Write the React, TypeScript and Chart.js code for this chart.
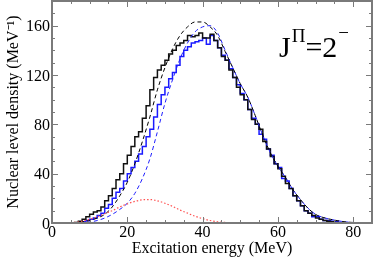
import React, { useEffect, useRef } from 'react';
import { Chart, registerables } from 'chart.js';

Chart.register(...registerables);

// Histogram bins are 1 MeV wide, first bin starts at 1 MeV
const binStart = 1;
const binWidth = 1;
// black histogram (bins 1..80 MeV)
const blackHist = [
  0, 0, 0, 0, 0, 0, 0.5, 1.5, 3, 5,
  7, 9, 10, 13, 18, 22, 28, 35, 40, 48,
  55, 62, 70, 74, 85, 95, 108, 118, 124, 128,
  132, 137, 140, 144, 146, 148, 152, 151, 152, 154,
  150, 150, 153, 148, 142, 135, 132, 124, 118, 110,
  104, 100, 92, 84, 80, 76, 66, 60, 54, 48,
  44, 38, 32, 28, 22, 18, 14, 10, 8, 6,
  4, 3, 2, 1.5, 1, 0.5, 0, 0, 0, 0,
];
// blue histogram (bins 1..80 MeV)
const blueHist = [
  0, 0, 0, 0, 0, 0, 0, 0.5, 1, 2,
  3, 4, 6, 8, 12, 15, 20, 25, 28, 34,
  40, 45, 50, 56, 62, 70, 76, 86, 96, 104,
  110, 117, 122, 128, 135, 140, 143, 146, 147, 148,
  150, 145, 152, 148, 142, 136, 132, 125, 118, 112,
  105, 100, 92, 85, 80, 72, 68, 60, 55, 48,
  45, 36, 34, 28, 22, 18, 14, 10, 8, 5,
  5, 3, 2, 2, 1.5, 1, 0.5, 0, 0, 0,
];
// smooth curves sampled every 2 MeV
const curveE = [
  0, 2, 4, 6, 8, 10, 12, 14, 16, 18, 20, 22, 24, 26, 28, 30, 32, 34, 36, 38, 40, 42,
  44, 46, 48, 50, 52, 54, 56, 58, 60, 62, 64, 66, 68, 70, 72, 74, 76, 78, 80, 82, 84,
];
const blackFit = [
  0, 0, 0, 0.3, 1, 2, 4, 7, 13, 22, 33, 48, 66, 86, 108, 126, 141, 152, 159, 163, 163, 159,
  152, 139, 126, 113, 102, 87, 71, 57, 46, 37, 27, 19, 12, 7, 4.5, 3, 1.8, 0.9, 0.4, 0.1, 0,
];
const blueFit = [
  0, 0, 0, 0, 0.3, 0.8, 2, 4, 7, 11, 16, 24, 36, 52, 74, 97, 116, 133, 146, 155, 159, 160,
  154, 140, 126, 113, 102, 87, 71, 57, 46, 37, 27, 19, 12, 7, 4.5, 3, 1.8, 0.9, 0.4, 0.1, 0,
];
const redE = [4, 6, 8, 10, 12, 14, 16, 18, 20, 22, 24, 26, 28, 30, 32, 34, 36, 38, 40, 42, 44, 46, 48, 50];
const redFit = [0.2, 0.5, 1.5, 3, 5, 7.5, 10, 13, 15.5, 17.5, 18.8, 19, 18, 16, 13.5, 10.5, 8, 5.5, 3.5, 2, 1, 0.5, 0.2, 0];

const xTicks = [0, 20, 40, 60, 80];
const yTicks = [0, 40, 80, 120, 160];
const xTitle = 'Excitation energy (MeV)';
const yTitle = 'Nuclear level density (MeV⁻¹)';

const SERIF = '"Liberation Serif", "Times New Roman", serif';

function histPoints(vals: number[]) {
  const pts = vals.map((v, i) => ({ x: binStart + i * binWidth, y: v }));
  pts.push({ x: binStart + vals.length * binWidth, y: vals[vals.length - 1] });
  return pts;
}
function curvePoints(xs: number[], ys: number[]) {
  return xs.map((x, i) => ({ x, y: ys[i] }));
}

const framePlugin = {
  id: 'frame',
  afterDraw(chart: any) {
    const { ctx, chartArea } = chart;
    const { left, right, top, bottom } = chartArea;
    const xs = chart.scales.x;
    const ys = chart.scales.y;
    ctx.save();
    ctx.strokeStyle = '#7a7a7a';
    ctx.lineWidth = 1;
    ctx.beginPath();
    for (let v = 5; v < 85; v += 5) {
      const px = Math.round(xs.getPixelForValue(v)) + 0.5;
      const len = v % 20 === 0 ? 6 : 3;
      ctx.moveTo(px, bottom); ctx.lineTo(px, bottom - len);
      ctx.moveTo(px, top); ctx.lineTo(px, top + len);
    }
    for (let v = 10; v < 180; v += 10) {
      const py = Math.round(ys.getPixelForValue(v)) + 0.5;
      const len = v % 40 === 0 ? 6 : 3;
      ctx.moveTo(left, py); ctx.lineTo(left + len, py);
      ctx.moveTo(right, py); ctx.lineTo(right - len, py);
    }
    ctx.stroke();
    ctx.lineWidth = 2;
    ctx.strokeRect(left, top, right - left, bottom - top);

    // tick labels
    ctx.fillStyle = '#000';
    ctx.font = `16px ${SERIF}`;
    ctx.textBaseline = 'alphabetic';
    ctx.textAlign = 'center';
    for (const v of xTicks) {
      ctx.fillText(String(v), xs.getPixelForValue(v), bottom + 14);
    }
    ctx.textAlign = 'right';
    for (const v of yTicks) {
      ctx.fillText(String(v), left - 2, ys.getPixelForValue(v) + 5.5);
    }
    // axis titles
    ctx.textAlign = 'center';
    ctx.fillText(xTitle, (left + right) / 2, bottom + 30);
    ctx.save();
    ctx.translate(18, (top + bottom) / 2);
    ctx.rotate(-Math.PI / 2);
    ctx.fillText(yTitle, 0, 0);
    ctx.restore();

    // annotation J^Π = 2^-
    ctx.textAlign = 'left';
    const big = `30px ${SERIF}`;
    const small = `19px ${SERIF}`;
    let x = right - 93;
    const base = top + 56;
    ctx.font = big;
    ctx.fillText('J', x, base);
    x += ctx.measureText('J').width + 1;
    ctx.font = small;
    ctx.fillText('Π', x, base - 15);
    x += ctx.measureText('Π').width;
    ctx.font = big;
    ctx.fillText('=2', x, base);
    x += ctx.measureText('=2').width + 1;
    ctx.font = small;
    ctx.fillText('−', x, base - 18);
    ctx.restore();
  },
};

export default function App() {
  const ref = useRef<HTMLCanvasElement>(null);
  useEffect(() => {
    const canvas = ref.current;
    if (!canvas) return;
    const chart = new Chart(canvas, {
      type: 'line',
      data: {
        datasets: [
          {
            data: curvePoints(redE, redFit),
            borderColor: '#ff5050',
            borderWidth: 1.2,
            borderDash: [1.5, 2],
            pointRadius: 0,
            cubicInterpolationMode: 'monotone',
          },
          {
            data: curvePoints(curveE, blackFit),
            borderColor: '#000',
            borderWidth: 1,
            borderDash: [4, 3],
            pointRadius: 0,
            cubicInterpolationMode: 'monotone',
          },
          {
            data: curvePoints(curveE, blueFit),
            borderColor: '#2020ff',
            borderWidth: 1,
            borderDash: [4, 3],
            pointRadius: 0,
            cubicInterpolationMode: 'monotone',
          },
          {
            data: histPoints(blackHist),
            borderColor: '#111',
            borderWidth: 1.5,
            stepped: 'after',
            pointRadius: 0,
          },
          {
            data: histPoints(blueHist),
            borderColor: '#1a1aff',
            borderWidth: 1.5,
            stepped: 'after',
            pointRadius: 0,
          },
        ],
      },
      options: {
        animation: false,
        responsive: false,
        devicePixelRatio: 1,
        layout: { padding: { top: 1, right: 2, left: 52, bottom: 34 } },
        plugins: { legend: { display: false }, tooltip: { enabled: false } },
        scales: {
          x: { type: 'linear', min: 0, max: 85, display: false },
          y: { type: 'linear', min: 0, max: 180, display: false },
        },
      },
      plugins: [framePlugin],
    } as any);
    return () => chart.destroy();
  }, []);
  return (
    <div style={{ position: 'fixed', left: 0, top: 0, width: 374, height: 257, background: '#fff' }}>
      <canvas ref={ref} width={374} height={257} />
    </div>
  );
}
